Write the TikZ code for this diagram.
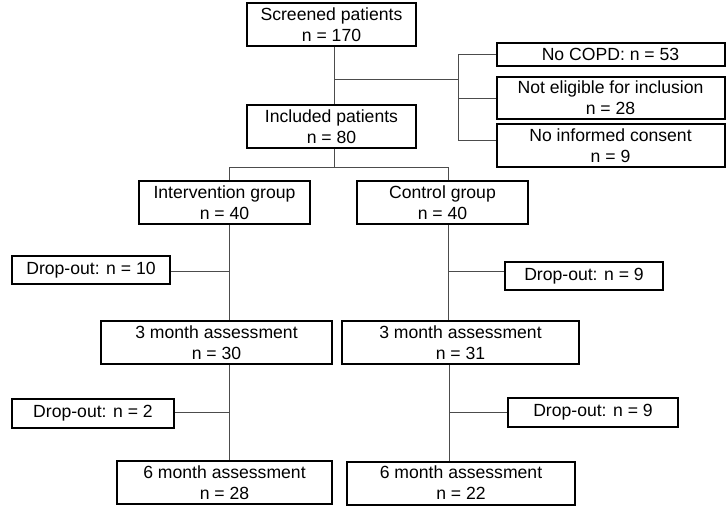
\documentclass[tikz,border=0pt]{standalone}
\usepackage{fontspec}
\setmainfont{Liberation Sans}
\usepackage{tikz}

\begin{document}
\begin{tikzpicture} [x=1pt,y=-1pt,
  box/.style= {draw,line width=2pt,inner sep=0,align=center,font=\fontsize{17.6}{21}\selectfont},
  link/.style= {line width=0.9pt,draw=black!70}]
\useasboundingbox (0,0) rectangle (727,508);

\node[box,minimum width=169,minimum height=43] (screen) at (331.5,24.5) {Screened patients\\n = 170};
\node[box,minimum width=169,minimum height=43] (incl) at (331.5,126.5) {Included patients\\n = 80};
\node[box,minimum width=228,minimum height=23] (nocopd) at (610.5,54.5) {No COPD: n = 53};
\node[box,minimum width=228,minimum height=42] (noelig) at (610.5,98) {Not eligible for inclusion\\n = 28};
\node[box,minimum width=228,minimum height=43] (nocons) at (610.5,145.5) {No informed consent\\n = 9};

\node[box,minimum width=171,minimum height=43] (interv) at (224.5,202.5) {Intervention group\\n = 40};
\node[box,minimum width=171,minimum height=43] (ctrl) at (442.5,202.5) {Control group\\n = 40};
\node[box,minimum width=158,minimum height=28] (dropA) at (91,270) {Drop-out: n = 10};
\node[box,minimum width=158,minimum height=28] (dropB) at (584,276) {Drop-out: n = 9};
\node[box,minimum width=231,minimum height=43] (mthreeA) at (216.5,342.5) {3 month assessment\\n = 30};
\node[box,minimum width=237,minimum height=43] (mthreeB) at (460.5,342.5) {3 month assessment\\n = 31};
\node[box,minimum width=162,minimum height=29] (dropC) at (93,413.5) {Drop-out: n = 2};
\node[box,minimum width=170,minimum height=29] (dropD) at (593,412.5) {Drop-out: n = 9};
\node[box,minimum width=215,minimum height=43] (msixA) at (224.5,482.5) {6 month assessment\\n = 28};
\node[box,minimum width=228,minimum height=43] (msixB) at (461,483) {6 month assessment\\n = 22};

% junctions
\coordinate (top) at (334,79);
\coordinate (side) at (458,79);
\coordinate (cons) at (458,140);
\coordinate (split) at (334,167);
\coordinate (splitL) at (229,167);
\coordinate (splitR) at (448,167);
\coordinate (dL1) at (229,271);
\coordinate (dR1) at (448,271);
\coordinate (dL2) at (229,412);
\coordinate (dR2) at (449,412);

% exclusions
\draw[link] (screen.south -| top) -- (incl.north -| top);
\draw[link] (top) -- (side);
\draw[link] (nocopd.west) -- (nocopd.west -| side) -- (cons) -- (cons -| nocons.west);
\draw[link] (noelig.west -| side) -- (noelig.west);

% groups
\draw[link] (incl.south -| split) -- (split);
\draw[link] (interv.north -| splitL) -- (splitL) -- (splitR) -- (ctrl.north -| splitR);

% follow up
\draw[link] (interv.south -| dL1) -- (mthreeA.north -| dL1);
\draw[link] (dropA.east |- dL1) -- (dL1);
\draw[link] (ctrl.south -| dR1) -- (mthreeB.north -| dR1);
\draw[link] (dR1) -- (dR1 -| dropB.west);
\draw[link] (mthreeA.south -| dL2) -- (msixA.north -| dL2);
\draw[link] (dropC.east |- dL2) -- (dL2);
\draw[link] (mthreeB.south -| dR2) -- (msixB.north -| dR2);
\draw[link] (dR2) -- (dR2 -| dropD.west);
\end{tikzpicture}
\end{document}
